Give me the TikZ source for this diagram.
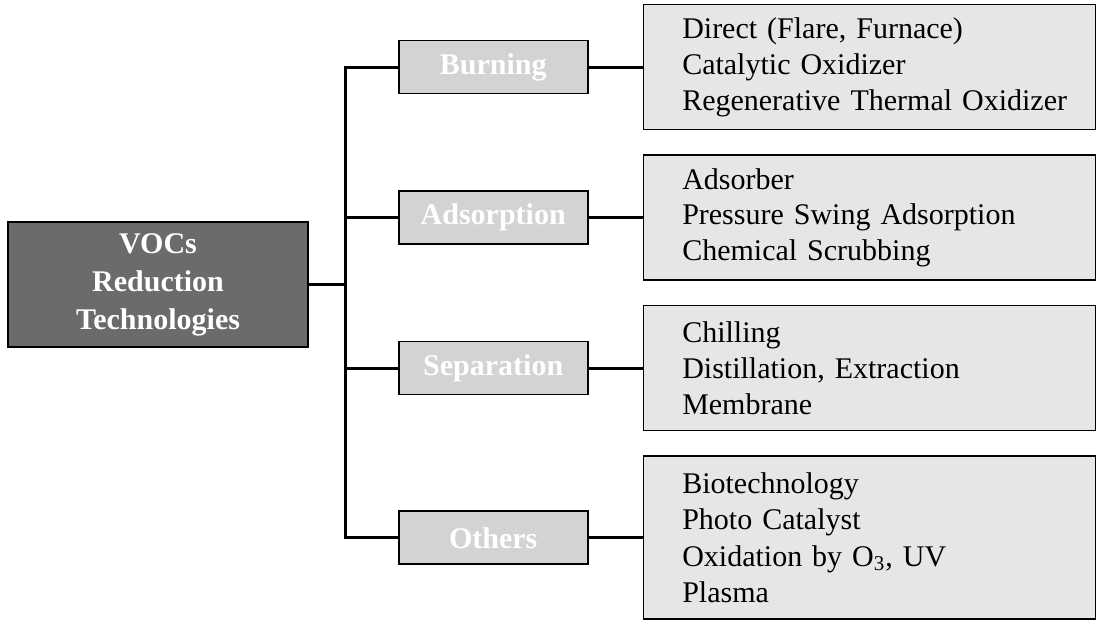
\documentclass[tikz,border=0pt]{standalone}
\usepackage{fontspec}
\setmainfont{Liberation Serif}
\usetikzlibrary{matrix}
\usetikzlibrary{positioning}
\definecolor{maingray}{HTML}{6B6B6B}
\definecolor{catgray}{HTML}{D3D3D3}
\definecolor{listgray}{HTML}{E6E6E6}

\begin{document}
\begin{tikzpicture}[
    mainbox/.style = {
      draw, line width = 0.75pt, fill = maingray, text = white,
      font = \fontsize{15}{19}\selectfont\bfseries, align = center,
      minimum width = 150pt, minimum height = 62.5pt, inner sep = 0pt, outer sep = 0pt,
    },
    catbox/.style = {
      draw, line width = 0.75pt, fill = catgray, text = white,
      font = \fontsize{15}{18}\selectfont\bfseries,
      minimum width = 94.5pt, minimum height = 26.5pt, inner sep = 0pt, outer sep = 0pt,
    },
    listbox/.style = {
      draw, line width = 0.75pt, fill = listgray, text = black,
      font = \fontsize{15}{17.8}\selectfont, align = left, text width = 187pt,
      inner xsep = 19.5pt, inner ysep = 6pt, minimum height = 62.5pt, outer sep = 0pt,
    },
  ]
  \useasboundingbox (0,0) rectangle (549pt,310pt);

  \node[mainbox] (voc) at (79pt,167.75pt) {VOCs\\Reduction\\Technologies};

  \matrix (m) [
    matrix of nodes, anchor = north east, inner sep = 0pt, outer sep = 0pt,
    row sep = 12pt, column sep = 27pt, nodes = {anchor = center}
  ] at (548pt,308pt) {
      |[catbox] (burn)| Burning
    & |[listbox] (burnlist)| {Direct (Flare,~Furnace)\\Catalytic~Oxidizer\\\mbox{Regenerative~Thermal~Oxidizer}}
    \\
      |[catbox] (adsorb)| Adsorption
    & |[listbox] (adsorblist)| {Adsorber\\Pressure Swing Adsorption\\Chemical~Scrubbing}
    \\
      |[catbox] (separ)| Separation
    & |[listbox] (separlist)| {Chilling\\Distillation,~Extraction\\Membrane}
    \\
      |[catbox] (others)| Others
    & |[listbox, minimum height = 81.5pt, font = \fontsize{15}{18.3}\selectfont] (otherslist)|
      {Biotechnology\\Photo Catalyst\\Oxidation by O\textsubscript{3}, UV\\Plasma}
    \\
  };

  \coordinate (trunk) at (172.5pt,0pt);

  \begin{scope}[line width = 1.5pt]
    \draw (voc) -- (voc -| trunk);
    \draw (burn) -- (burn -| trunk) -- (others -| trunk) -- (others);
    \draw (adsorb) -- (adsorb -| trunk);
    \draw (separ) -- (separ -| trunk);

    \draw (burn) -- (burnlist);
    \draw (adsorb) -- (adsorblist);
    \draw (separ) -- (separlist);
    \draw (others) -- (otherslist);
  \end{scope}
\end{tikzpicture}
\end{document}
